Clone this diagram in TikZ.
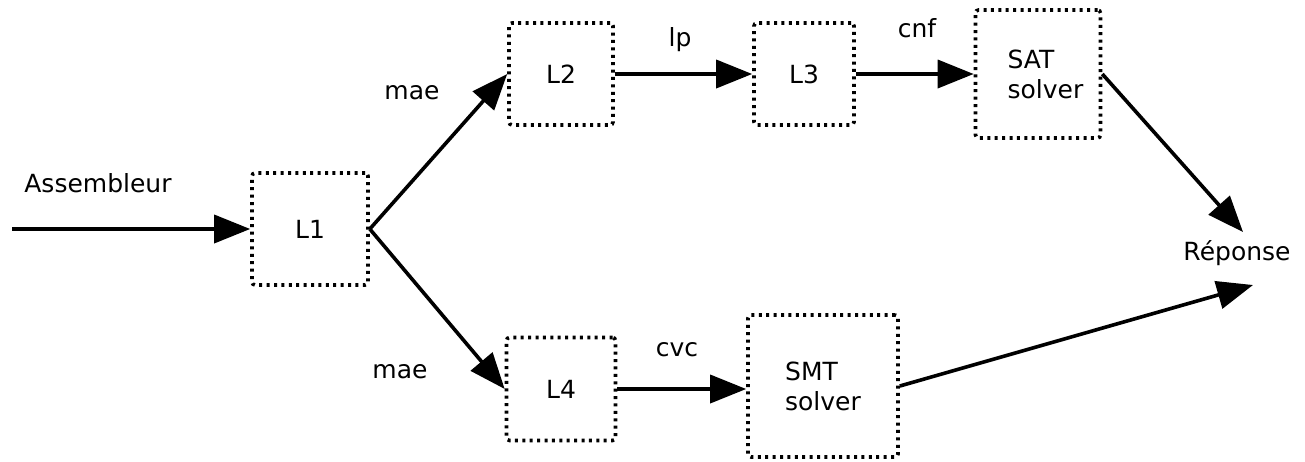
\documentclass[tikz,border=0pt]{standalone}
\usepackage{fontspec}
\setmainfont{DejaVu Sans}
\usetikzlibrary{arrows.meta}
\begin{document}
\begin{tikzpicture}[x=0.5pt,y=-0.5pt,
  box/.style={draw, line width=1.8pt, dash pattern=on 1.5pt off 2.2pt, rounded corners=1.5pt, inner sep=0pt, font=\fontsize{12.5}{15}\selectfont, align=left},
  lbl/.style={font=\fontsize{12.5}{15}\selectfont, inner sep=0pt},
  arr/.style={line width=1.8pt, -{Triangle[length=18pt,width=14pt]}}
]
\useasboundingbox (0,0) rectangle (1305,461);
\node[box,minimum width=58pt,minimum height=56pt] (L1) at (310,229) {L1};
\node[box,minimum width=52pt,minimum height=51pt] (L2) at (561,74) {L2};
\node[box,minimum width=50pt,minimum height=51pt] (L3) at (804,74) {L3};
\node[box,minimum width=62.5pt,minimum height=64pt] (SAT) at (1038,74) {\hspace*{7.5pt}SAT\\\hspace*{7.5pt}solver};
\node[box,minimum width=54.5pt,minimum height=51.5pt] (L4) at (561,389) {L4};
\node[box,minimum width=75pt,minimum height=71pt] (SMT) at (823,386) {SMT\\solver};
\node[lbl] (rep) at (1237,253) {Réponse};
\node[lbl] (asm) at (98,183) {Assembleur};
\node[lbl] (mae1) at (412,93) {mae};
\node[lbl] (mae2) at (400,372) {mae};
\node[lbl] (lp) at (680,40) {lp};
\node[lbl] (cnf) at (917,28) {cnf};
\node[lbl] (cvc) at (677,350) {cvc};
\coordinate (in) at (12,229);
\coordinate (r1) at (1243,232);
\coordinate (r2) at (1253,285);
\draw[arr] (in) -- (L1.west);
\draw[arr] (L1.east) -- (L2.west);
\draw[arr] (L1.east) -- (L4.west);
\draw[arr] (L2.east) -- (L3.west);
\draw[arr] (L3.east) -- (SAT.west);
\draw[arr] (L4.east) -- (L4.east -| SMT.west);
\draw[arr] (SAT.east) -- (r1);
\draw[arr] (SMT.east) -- (r2);
\end{tikzpicture}
\end{document}
